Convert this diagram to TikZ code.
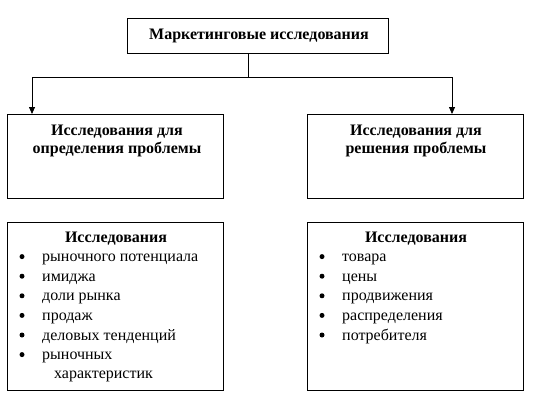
\documentclass[tikz,border=0pt]{standalone}
\usepackage{fontspec}
\setmainfont{Liberation Serif}
\usetikzlibrary{arrows.meta,calc}
\begin{document}
\begin{tikzpicture}[x=1pt,y=-1pt,
  box/.style={draw,line width=0.9pt,inner sep=0pt,minimum width=#1},
  head/.style={font=\fontsize{16}{18}\selectfont\bfseries,align=center,inner sep=0pt},
  item/.style={font=\fontsize{16}{18}\selectfont,anchor=base west,inner sep=0pt},
  bul/.style={circle,fill,inner sep=0pt,minimum size=5pt},
  arr/.style={line width=0.8pt,-{Triangle[length=7pt,width=6pt]}},
  ln/.style={line width=0.8pt}]
\useasboundingbox (0,0) rectangle (537,410);
% boxes
\node[box=261pt,minimum height=35pt,anchor=north west] (top) at (127,18) {};
\node[box=216pt,minimum height=84pt,anchor=north west] (lbox) at (7,114) {};
\node[box=216pt,minimum height=84pt,anchor=north west] (rbox) at (307,114) {};
\node[box=216pt,minimum height=168pt,anchor=north west] (lbot) at (7,222) {};
\node[box=216pt,minimum height=168pt,anchor=north west] (rbot) at (307,222) {};
% texts
\node[head] (toptext) at (259,36) {Маркетинговые исследования};
\node[head,anchor=north] (ltext) at (117,125) {Исследования для\\определения проблемы};
\node[head,anchor=north] (rtext) at (416,125) {Исследования для\\решения проблемы};
\node[head,anchor=base] (lbt) at (116,242) {Исследования};
\node[head,anchor=base] (rbt) at (416,242) {Исследования};
% left list
\foreach \i/\t in {1/рыночного потенциала,2/имиджа,3/доли рынка,4/продаж,5/деловых тенденций,6/рыночных}{
  \node[bul] (lb\i) at (22,242+19.6*\i-5) {};
  \node[item] (li\i) at (42,242+19.6*\i) {\t};
}
\node[item] (li7) at (54,242+19.6*7-1) {характеристик};
% right list
\foreach \i/\t in {1/товара,2/цены,3/продвижения,4/распределения,5/потребителя}{
  \node[bul] (rb\i) at (322,242+19.6*\i-5) {};
  \node[item] (ri\i) at (342,242+19.6*\i) {\t};
}
% connectors
\coordinate (j) at (248,77);
\coordinate (la) at ($(lbox.north west)+(25,0)$);
\coordinate (ra) at ($(rbox.north west)+(145,0)$);
\coordinate (ts) at (top.south -| j);
\draw[ln] (ts) -- (j);
\draw[arr] (j) -| (la);
\draw[arr] (j) -| (ra);
\end{tikzpicture}
\end{document}
